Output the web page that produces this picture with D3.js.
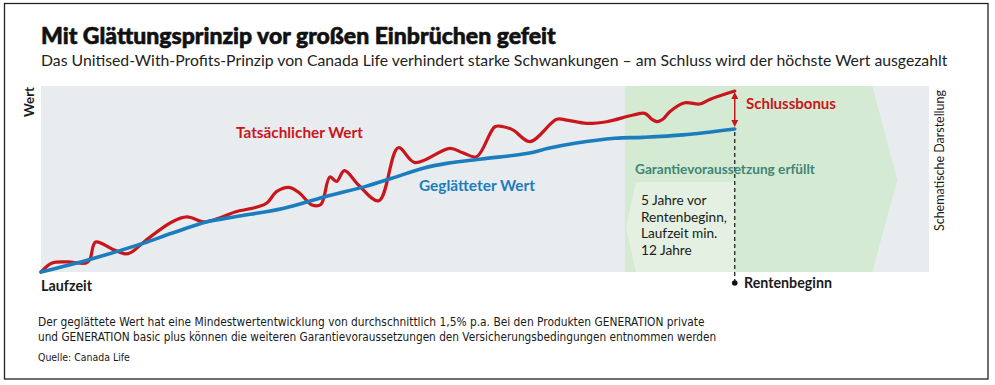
<!DOCTYPE html>
<html><head><meta charset="utf-8">
<script src="https://cdn.jsdelivr.net/npm/d3@7"></script>
<style>
html,body{margin:0;padding:0;background:#fff;}
svg{display:block;font-family:Lato,"Open Sans",sans-serif;}
</style></head><body>
<svg id="chart" width="995" height="385"></svg>
<script>
// ---------- data ----------
const actualYears = [0, 0.48, 1.17, 1.95, 2.12, 2.36, 3.07, 3.67, 3.93, 4.50,
  5.66, 6.31, 7.09, 7.83, 8.39, 9.34, 9.77, 10.2, 10.77, 11.2,
  11.72, 12.1, 12.49, 12.78, 13.12, 13.75, 14.61, 15.45, 16.17, 17.68,
  18.24, 18.84, 19.63, 19.99, 20.42, 21.14, 22.30, 22.73, 23.59, 24.46,
  25.61, 26.11, 26.42, 26.63, 26.89, 27.19, 27.84, 28.49, 28.92, 30.0];
const actualValues = [0, 4.8, 5.4, 4.8, 7.0, 16.1, 12.4, 9.7, 10.8, 16.7,
  26.9, 29.6, 26.9, 29.6, 32.3, 34.9, 37.1, 43.3, 45.4, 42.2,
  36.0, 36.3, 51.1, 48.7, 54.5, 46.5, 38.3, 66.8, 58.8, 66.5,
  64.1, 62.0, 78.1, 78.1, 76.3, 70.1, 82.1, 81.7, 79.9, 80.8,
  84.4, 85.3, 82.1, 80.8, 82.1, 86.2, 91.0, 90.3, 92.8, 97.3];
const smoothYears = [0, 2.03, 4.41, 5.65, 7.18, 8.39, 10.46, 12.28, 14.01, 15.17,
  16.53, 17.54, 19.06, 21.07, 21.94, 23.09, 24.82, 26.03, 27.76, 30.0];
const smoothValues = [0, 6.5, 15.4, 20.8, 27.0, 29.7, 34.2, 40.5, 45.9, 50.4,
  55.8, 58.4, 60.8, 63.8, 66.5, 69.2, 71.9, 72.4, 73.7, 76.9];
const pensionStart = 30;        // Rentenbeginn
const guaranteeStart = 25.25;   // Garantievoraussetzung erfüllt (5 Jahre vor Rentenbeginn)
const guaranteeEnd = 35.95;     // end of green band (arrow tip beyond)
const xMax = 38.4, yMax = 100;

const title = "Mit Glättungsprinzip vor großen Einbrüchen gefeit";
const subtitle = "Das Unitised-With-Profits-Prinzip von Canada Life verhindert starke Schwankungen – am Schluss wird der höchste Wert ausgezahlt";
const noteLines = ["5 Jahre vor", "Rentenbeginn,", "Laufzeit min.", "12 Jahre"];
const footLines = ["Der geglättete Wert hat eine Mindestwertentwicklung von durchschnittlich 1,5% p.a. Bei den Produkten GENERATION private",
  "und GENERATION basic plus können die weiteren Garantievoraussetzungen den Versicherungsbedingungen entnommen werden"];
const source = "Quelle: Canada Life";

// ---------- colours ----------
const RED = "#c9161c", BLUE = "#1b7dbd", TEAL = "#3f8676", DARK = "#1a1a1a";
const GREY = "#e9ecef", GREEN = "#d4ead3", LIGHT = "#e4f0e1";

const svg = d3.select("#chart");
const x = d3.scaleLinear().domain([0, xMax]).range([41, 929]);
const y = d3.scaleLinear().domain([0, yMax]).range([272, 86]);

function fit(sel, w) {
  const len = sel.node().getComputedTextLength();
  const fs = parseFloat(sel.attr("font-size"));
  sel.attr("font-size", (fs * w / len).toFixed(2));
  return sel;
}
function txt(s, px, py, fs, weight, color, w, rot, fam) {
  const t = svg.append("text").text(s).attr("font-size", fs).attr("font-weight", weight).attr("fill", color);
  if (fam) t.attr("font-family", fam);
  if (rot) t.attr("transform", `translate(${px},${py}) rotate(-90)`);
  else t.attr("x", px).attr("y", py);
  if (w) fit(t, w);
  return t;
}

// frame
svg.append("rect").attr("x", 4.5).attr("y", 3.5).attr("width", 983.5).attr("height", 375.5)
  .attr("fill", "none").attr("stroke", "#222").attr("stroke-width", 1.3);

// plot background
svg.append("rect").attr("x", x(0)).attr("y", y(yMax)).attr("width", x(xMax) - x(0)).attr("height", y(0) - y(yMax)).attr("fill", GREY);

// green guarantee band with arrow tip
const tipX = x(guaranteeEnd) + 25, midY = y(49.5);
svg.append("path").attr("fill", GREEN).attr("d",
  `M${x(guaranteeStart)},${y(yMax)} L${x(guaranteeEnd)},${y(yMax)} L${tipX},${midY} L${x(guaranteeEnd)},${y(0)} L${x(guaranteeStart)},${y(0)} Z`);

// light note box (chevron pointing left)
const boxTop = y(49.5) + 2;
svg.append("path").attr("fill", LIGHT).attr("d",
  `M${x(guaranteeStart) + 11},${boxTop} L${x(pensionStart)},${boxTop} L${x(pensionStart)},${y(0)} L${x(guaranteeStart) + 11},${y(0)} L${x(guaranteeStart) + 1},${(boxTop + y(0)) / 2} Z`);

// dashed Rentenbeginn line
svg.append("line").attr("x1", x(pensionStart)).attr("x2", x(pensionStart))
  .attr("y1", y(smoothValues[smoothValues.length - 1]) + 3).attr("y2", 282)
  .attr("stroke", "#111").attr("stroke-width", 1.2).attr("stroke-dasharray", "4,3");
svg.append("circle").attr("cx", x(pensionStart)).attr("cy", 283).attr("r", 2.8).attr("fill", "#111");

// lines
const line = d3.line().x(d => x(d[0])).y(d => y(d[1])).curve(d3.curveCatmullRom.alpha(0.5));
svg.append("path").datum(d3.zip(actualYears, actualValues)).attr("d", line)
  .attr("fill", "none").attr("stroke", RED).attr("stroke-width", 3.2).attr("stroke-linejoin", "round").attr("stroke-linecap", "round");
svg.append("path").datum(d3.zip(smoothYears, smoothValues)).attr("d", line)
  .attr("fill", "none").attr("stroke", BLUE).attr("stroke-width", 3.6).attr("stroke-linejoin", "round").attr("stroke-linecap", "round");

// Schlussbonus arrow
const ax = x(pensionStart), aTop = y(actualValues[actualValues.length - 1]) + 1, aBot = y(smoothValues[smoothValues.length - 1]) - 2;
svg.append("line").attr("x1", ax).attr("x2", ax).attr("y1", aTop + 5).attr("y2", aBot - 5).attr("stroke", RED).attr("stroke-width", 1.5);
svg.append("path").attr("fill", RED).attr("d", `M${ax},${aTop} L${ax - 3.5},${aTop + 7} L${ax + 3.5},${aTop + 7} Z`);
svg.append("path").attr("fill", RED).attr("d", `M${ax},${aBot} L${ax - 3.5},${aBot - 7} L${ax + 3.5},${aBot - 7} Z`);

// texts
txt(title, 41, 44, 20, 900, "#111", 515).attr("stroke", "#111").attr("stroke-width", 0.6);
txt(subtitle, 41, 66, 16, 400, "#222", 907);
txt("Wert", 34, 117, 13, 700, DARK, 30, true);
txt("Schematische Darstellung", 944, 231, 12, 400, DARK, 141, true);
txt("Tatsächlicher Wert", 236, 138, 13, 700, RED, 127);
txt("Geglätteter Wert", 419, 191, 13, 700, BLUE, 116);
txt("Schlussbonus", 746, 109, 13, 700, RED, 90);
txt("Garantievoraussetzung erfüllt", 635, 174, 13, 700, TEAL, 180);
// note lines share one size, fitted on the longest line
const probe = txt(noteLines[1], 641, 221.5, 12.5, 400, DARK, 86);
const noteFs = probe.attr("font-size");
probe.remove();
noteLines.forEach((s, i) => txt(s, 641, 205 + i * 16.5, noteFs, 400, DARK, null));
txt("Laufzeit", 41, 291, 13, 700, DARK, 51);
txt("Rentenbeginn", 744, 288, 13, 700, DARK, 88);
const FOOT = "'Liberation Sans Narrow','DejaVu Sans Condensed',Lato,sans-serif";
txt(footLines[0], 38, 326, 11, 400, DARK, 667, false, FOOT);
txt(footLines[1], 38, 341, 11, 400, DARK, 678, false, FOOT);
txt(source, 38, 361, 11, 400, DARK, 92, false, FOOT);
</script>
</body></html>
